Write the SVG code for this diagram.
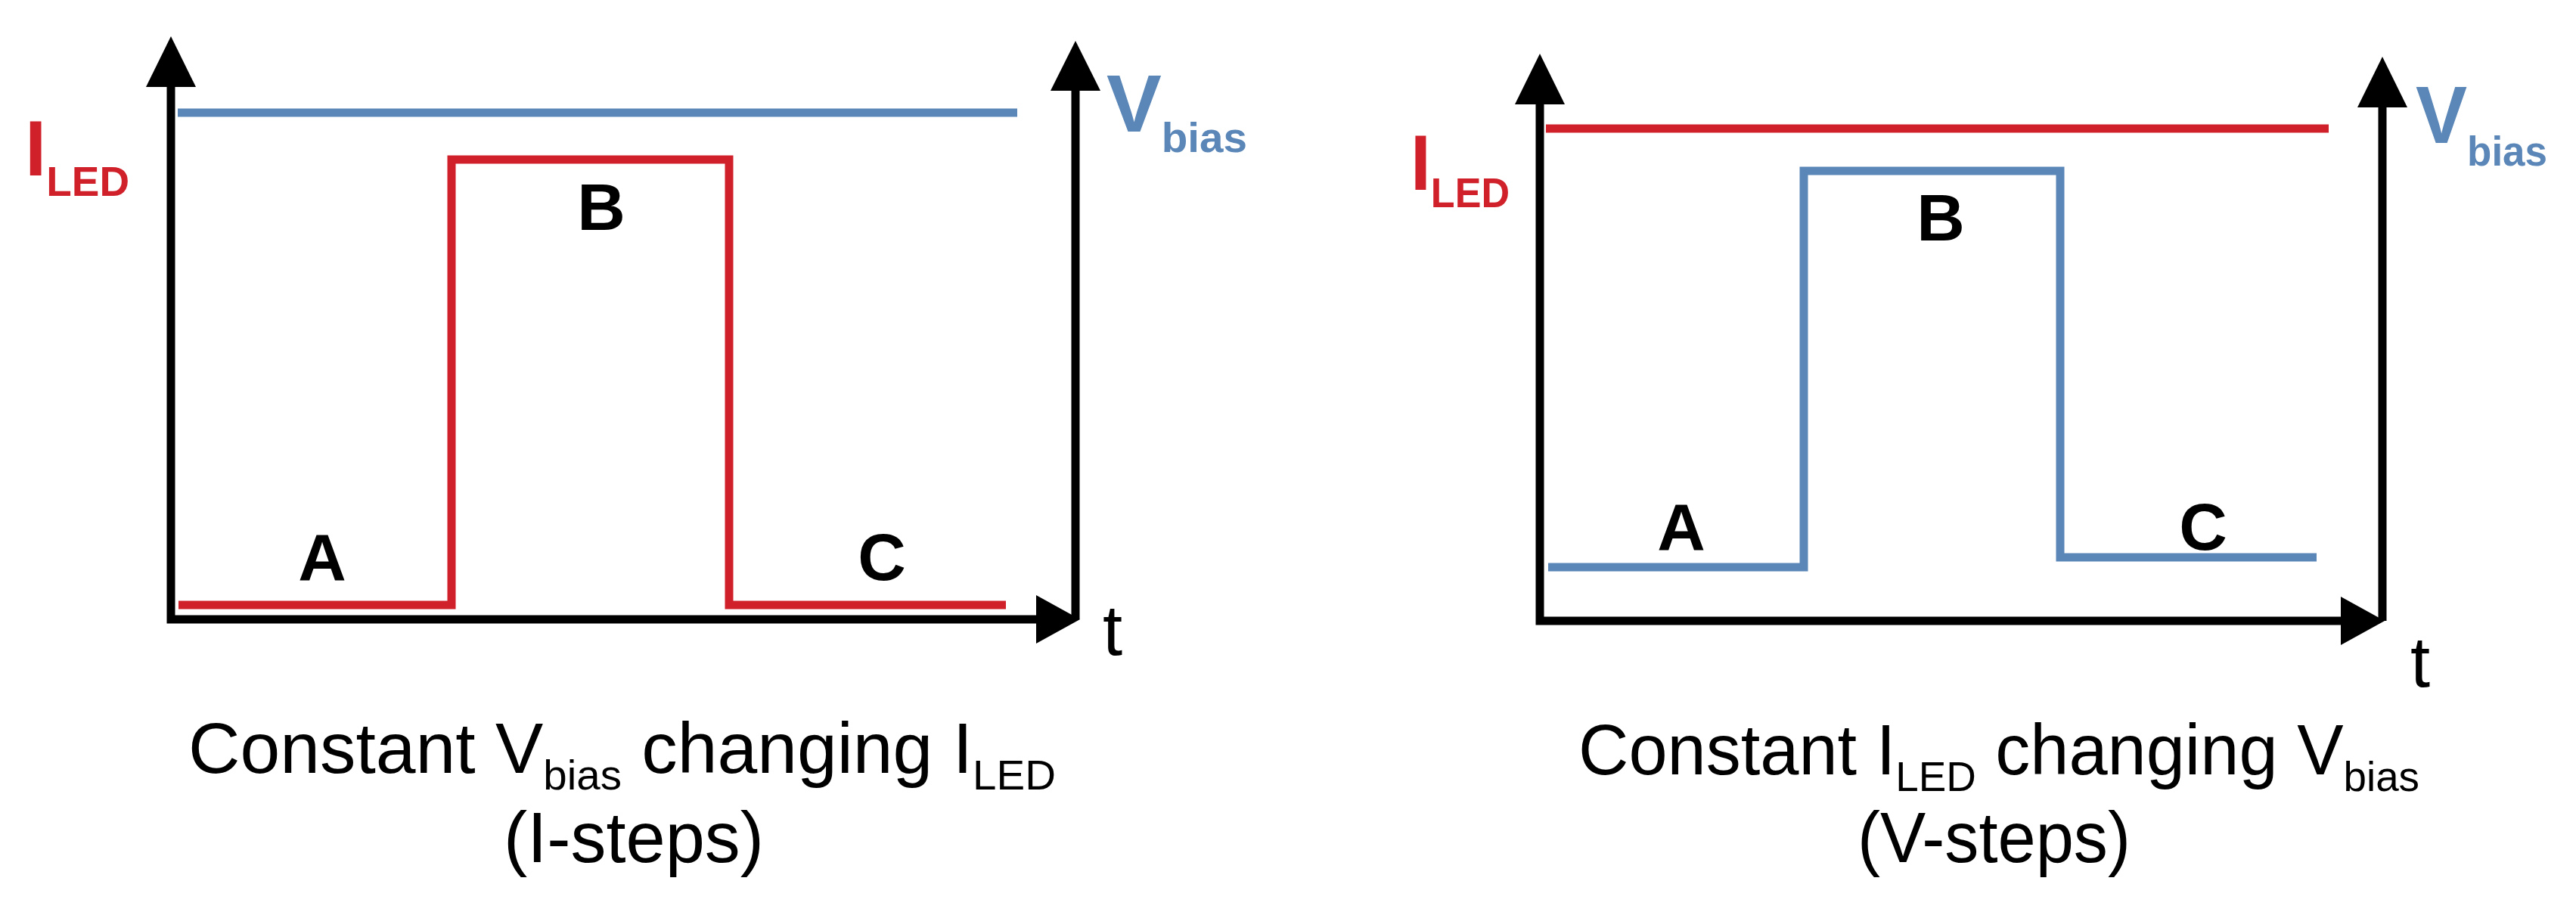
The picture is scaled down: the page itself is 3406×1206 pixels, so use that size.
<svg xmlns="http://www.w3.org/2000/svg" width="3406" height="1206" viewBox="0 0 3406 1206">
<style>
.ax{stroke:#000;stroke-width:11;fill:none}
.red{stroke:#D0202A;stroke-width:11;fill:none}
.blue{stroke:#5B87B8;stroke-width:11;fill:none}
.lbl{font-family:"Liberation Sans",Arial,sans-serif;font-weight:bold;font-size:88px;text-anchor:middle;fill:#000}
.cap{font-family:"Liberation Sans",Arial,sans-serif;font-size:94px;fill:#000}
.r{fill:#D0202A;font-family:"Liberation Sans",Arial,sans-serif;font-weight:bold}
.b{fill:#5B87B8;font-family:"Liberation Sans",Arial,sans-serif;font-weight:bold}
</style>
<rect width="3406" height="1206" fill="#fff"/>
<g id="left-chart">
<g id="left-axes">
<polyline class="ax" points="226,100 226,819 1370,819"/>
<line class="ax" x1="1422" y1="110" x2="1422" y2="819"/>
<polygon points="226,48 193,115 259,115"/>
<polygon points="1422,54 1389,120 1455,120"/>
<polygon points="1428,819 1370,787 1370,851"/>
</g>
<g id="left-signals">
<line class="blue" x1="235" y1="149" x2="1345" y2="149"/>
<polyline class="red" points="236,800 597,800 597,211 964,211 964,800 1330,800"/>
</g>
<text class="r" x="33" y="232" font-size="104" textLength="138" lengthAdjust="spacingAndGlyphs">I<tspan font-size="56" dy="27">LED</tspan></text>
<text class="b" x="1463" y="174" font-size="108" textLength="186" lengthAdjust="spacingAndGlyphs">V<tspan font-size="56" dy="27">bias</tspan></text>
<text class="lbl" x="426" y="767">A</text>
<text class="lbl" x="795" y="304">B</text>
<text class="lbl" x="1166" y="767">C</text>
<text class="cap" x="1471" y="866" font-size="112" text-anchor="middle">t</text>
<text class="cap" x="249" y="1022" textLength="1147" lengthAdjust="spacingAndGlyphs">Constant V<tspan font-size="56" dy="22">bias</tspan><tspan dy="-22"> changing I</tspan><tspan font-size="56" dy="22">LED</tspan></text>
<text class="cap" x="666" y="1140" textLength="344" lengthAdjust="spacingAndGlyphs">(I-steps)</text>
</g>
<g id="right-chart">
<g id="right-axes">
<polyline class="ax" points="2036,120 2036,821 3095,821"/>
<line class="ax" x1="3150" y1="130" x2="3150" y2="821"/>
<polygon points="2036,71 2003,138 2069,138"/>
<polygon points="3150,75 3117,142 3183,142"/>
<polygon points="3153,821 3095,789 3095,853"/>
</g>
<g id="right-signals">
<line class="red" x1="2044" y1="170" x2="3079" y2="170"/>
<polyline class="blue" points="2047,750 2385,750 2385,226 2724,226 2724,737 3063,737"/>
</g>
<text class="r" x="1865" y="251" font-size="104" textLength="131" lengthAdjust="spacingAndGlyphs">I<tspan font-size="56" dy="23">LED</tspan></text>
<text class="b" x="3194" y="189" font-size="108" textLength="174" lengthAdjust="spacingAndGlyphs">V<tspan font-size="56" dy="30">bias</tspan></text>
<text class="lbl" x="2223" y="727">A</text>
<text class="lbl" x="2566" y="318">B</text>
<text class="lbl" x="2913" y="727">C</text>
<text class="cap" x="3200" y="908" font-size="112" text-anchor="middle">t</text>
<text class="cap" x="2087" y="1024" textLength="1112" lengthAdjust="spacingAndGlyphs">Constant I<tspan font-size="56" dy="22">LED</tspan><tspan dy="-22"> changing V</tspan><tspan font-size="56" dy="22">bias</tspan></text>
<text class="cap" x="2456" y="1140" textLength="361" lengthAdjust="spacingAndGlyphs">(V-steps)</text>
</g>
</svg>
